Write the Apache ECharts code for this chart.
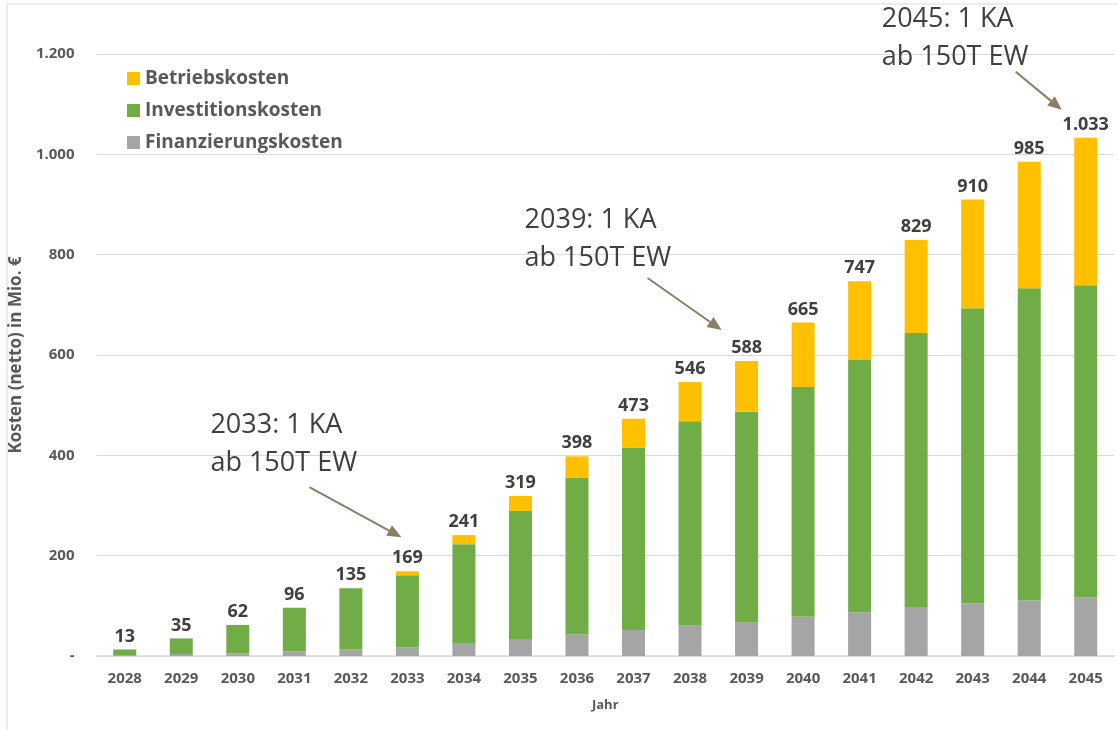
<!DOCTYPE html>
<html>
<head>
<meta charset="utf-8">
<script src="https://cdn.jsdelivr.net/npm/echarts@6/dist/echarts.min.js"></script>
<style>
  html, body { margin: 0; padding: 0; background: #fff; }
  #chart { width: 1118px; height: 730px; }
</style>
</head>
<body>
<div id="chart"></div>
<script>
// Jahre und Kosten in Mio. €
const years = ['2028', '2029', '2030', '2031', '2032', '2033', '2034', '2035', '2036',
  '2037', '2038', '2039', '2040', '2041', '2042', '2043', '2044', '2045'];
const finanzierung = [1, 4, 5, 9, 13, 17, 26, 34, 43, 52, 61, 67, 78, 87, 96, 105, 111, 117];
const investition = [12, 31, 57, 87, 122, 144, 197, 255, 313, 363, 407, 420, 458, 503, 548, 588, 622, 622];
const betrieb = [0, 0, 0, 0, 0, 8, 18, 30, 42, 58, 78, 101, 129, 157, 185, 217, 252, 294];
const totals = [13, 35, 62, 96, 135, 169, 241, 319, 398, 473, 546, 588, 665, 747, 829, 910, 985, 1033];

// Hinweise: Jahr und Text
const noteYears = ['2033', '2039', '2045'];
const noteTexts = ['2033: 1 KA\nab 150T EW', '2039: 1 KA\nab 150T EW', '2045: 1 KA\nab 150T EW'];

// Lage der Hinweise relativ zur Säulenspitze (Pfeilspitze, Pfeilende, Text)
const noteLayout = [
  { tip: [-6, -34], tail: [-98, -84], text: [-197, -165] },
  { tip: [-25, -31], tail: [-99, -83], text: [-222, -160] },
  { tip: [-24, -28], tail: [-70, -66], text: [-204, -137] }
];

const grey = '#595959';
const font = '"Open Sans", sans-serif';

function fmt(v) {
  if (v === 0) return '-';
  return String(v).replace(/\B(?=(\d{3})+(?!\d))/g, '.');
}

const chart = echarts.init(document.getElementById('chart'));

chart.setOption({
  animation: false,
  textStyle: { fontFamily: font },
  grid: { left: 89, right: 4, top: 54, bottom: 74 },
  legend: {
    orient: 'vertical',
    left: 122,
    top: 64,
    icon: 'rect',
    itemWidth: 13,
    itemHeight: 13,
    itemGap: 13,
    data: ['Betriebskosten', 'Investitionskosten', 'Finanzierungskosten'],
    textStyle: { fontSize: 19, fontWeight: 'bold', color: grey, fontFamily: font }
  },
  xAxis: {
    type: 'category',
    data: years,
    name: 'Jahr',
    nameLocation: 'middle',
    nameGap: 43,
    nameTextStyle: { fontSize: 13, fontWeight: 'bold', color: grey },
    axisLine: { lineStyle: { color: '#d9d9d9', width: 1.5 } },
    axisTick: { show: false },
    axisLabel: { fontSize: 15, fontWeight: 'bold', color: grey, margin: 15 }
  },
  yAxis: {
    type: 'value',
    min: 0,
    max: 1200,
    interval: 200,
    name: 'Kosten (netto) in Mio. €',
    nameLocation: 'middle',
    nameGap: 55,
    nameTextStyle: { fontSize: 17, fontWeight: 'bold', color: grey },
    axisLine: { show: false },
    axisTick: { show: false },
    splitLine: { lineStyle: { color: '#d9d9d9' } },
    axisLabel: { fontSize: 15, fontWeight: 'bold', color: grey, margin: 22, formatter: fmt }
  },
  series: [
    {
      name: 'Finanzierungskosten',
      type: 'bar',
      stack: 'k',
      barWidth: 23,
      itemStyle: { color: '#a5a5a5' },
      data: finanzierung
    },
    {
      name: 'Investitionskosten',
      type: 'bar',
      stack: 'k',
      itemStyle: { color: '#70ad47' },
      data: investition
    },
    {
      name: 'Betriebskosten',
      type: 'bar',
      stack: 'k',
      itemStyle: { color: '#ffc000' },
      data: betrieb,
      label: {
        show: true,
        position: 'top',
        distance: 4,
        fontSize: 18,
        fontWeight: 'bold',
        color: '#404040',
        formatter: p => fmt(totals[p.dataIndex])
      }
    }
  ]
});

// Rahmen und Hinweise mit Pfeil, an der Säulenspitze verankert
const graphics = [{
  type: 'rect',
  shape: { x: 7, y: 4, width: 1200, height: 800 },
  style: { fill: null, stroke: '#d9d9d9', lineWidth: 1 },
  silent: true
}];
const arrowColor = '#8a7e66';
noteYears.forEach((y, k) => {
  const i = years.indexOf(y);
  const top = chart.convertToPixel({ seriesIndex: 0 }, [i, totals[i]]);
  const L = noteLayout[k];
  const tip = [top[0] + L.tip[0], top[1] + L.tip[1]];
  const tail = [top[0] + L.tail[0], top[1] + L.tail[1]];
  const ang = Math.atan2(tip[1] - tail[1], tip[0] - tail[0]);
  const hl = 14, hw = 6;
  const bx = tip[0] - hl * Math.cos(ang), by = tip[1] - hl * Math.sin(ang);
  graphics.push({
    type: 'line',
    shape: { x1: tail[0], y1: tail[1], x2: bx, y2: by },
    style: { stroke: arrowColor, lineWidth: 2 }
  });
  graphics.push({
    type: 'polygon',
    shape: {
      points: [
        tip,
        [bx + hw * Math.sin(ang), by - hw * Math.cos(ang)],
        [bx - hw * Math.sin(ang), by + hw * Math.cos(ang)]
      ]
    },
    style: { fill: arrowColor }
  });
  graphics.push({
    type: 'text',
    x: top[0] + L.text[0],
    y: top[1] + L.text[1],
    style: {
      text: noteTexts[k],
      font: '27px "Open Sans", "Noto Sans", sans-serif',
      lineHeight: 38,
      fill: '#404040'
    }
  });
});
chart.setOption({ graphic: graphics });
</script>
</body>
</html>
